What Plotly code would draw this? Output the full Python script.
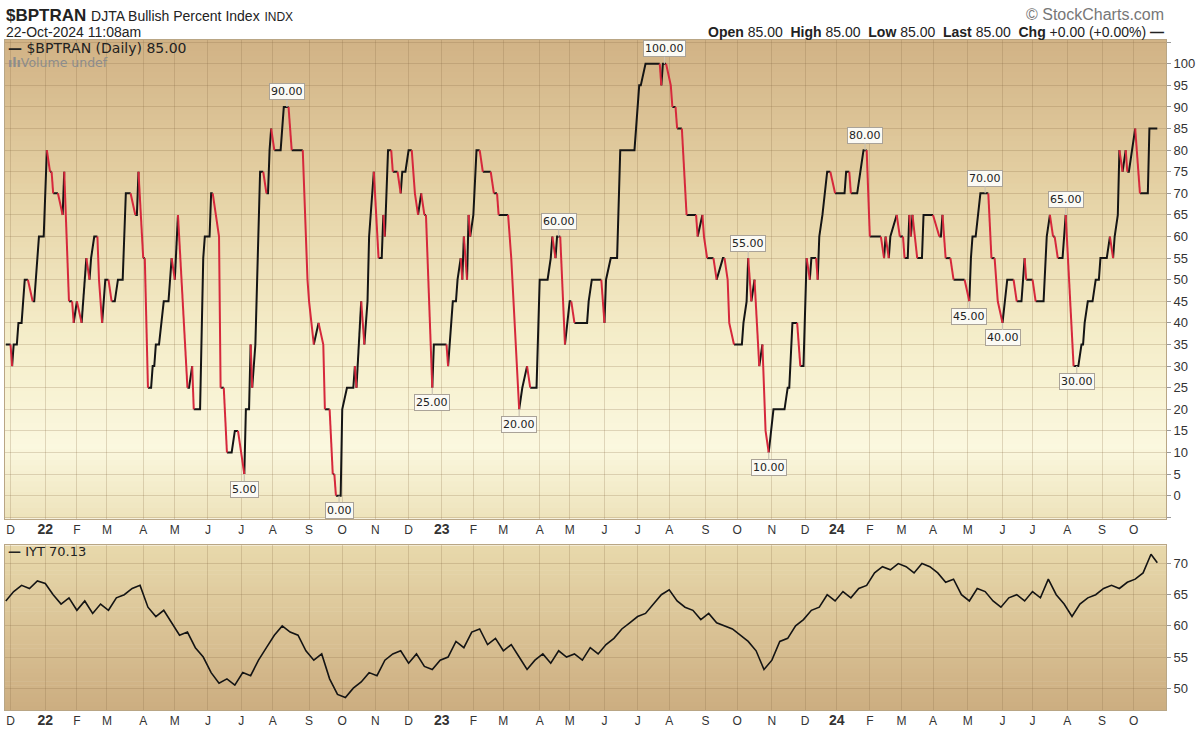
import numpy as np
import pandas as pd
import plotly.graph_objects as go

# ---------------- data ----------------
FIRST_SESSION = "2021-11-26"
LAST_SESSION = "2024-10-22"
market_holidays = [
    "2021-12-24", "2022-01-17", "2022-02-21", "2022-04-15", "2022-05-30", "2022-06-20",
    "2022-07-04", "2022-09-05", "2022-11-24", "2022-12-26", "2023-01-02", "2023-01-16",
    "2023-02-20", "2023-04-07", "2023-05-29", "2023-06-19", "2023-07-04", "2023-09-04",
    "2023-11-23", "2023-12-25", "2024-01-01", "2024-01-15", "2024-02-19", "2024-03-29",
    "2024-05-27", "2024-06-19", "2024-07-04", "2024-09-02",
]

# $BPTRAN vertices: trading-session number (0 = first session) and index value
bp_session = [
    0, 3, 4, 5, 7, 8, 10, 12, 14, 17, 18, 19, 21, 24, 26, 28, 29, 30, 33, 36, 37, 40, 42, 43, 45, 48,
    51, 53, 54, 56, 58, 59, 61, 63, 65, 67, 69, 71, 74, 76, 79, 82, 83, 84, 87, 88, 90, 92, 93, 94,
    95, 97, 100, 103, 105, 107, 109, 115, 116, 118, 119, 123, 125, 126, 129, 130, 131, 135, 136, 138,
    140, 143, 145, 147, 149, 151, 152, 154, 155, 156, 158, 161, 163, 165, 166, 167, 168, 170, 174,
    176, 179, 181, 188, 191, 192, 195, 198, 201, 202, 205, 207, 208, 209, 212, 213, 216, 220, 221,
    222, 225, 227, 229, 230, 231, 233, 236, 238, 239, 240, 242, 244, 245, 248, 250, 251, 253, 255,
    257, 259, 261, 263, 265, 266, 269, 270, 271, 279, 280, 282, 283, 285, 286, 288, 289, 290, 292,
    293, 294, 296, 298, 300, 302, 307, 309, 311, 312, 318, 320, 325, 327, 330, 332, 336, 338, 343,
    345, 346, 348, 349, 351, 354, 357, 358, 360, 368, 369, 371, 377, 379, 380, 383, 387, 389, 398,
    401, 402, 405, 414, 415, 416, 418, 421, 422, 424, 425, 428, 431, 437, 438, 441, 442, 444, 448,
    450, 454, 455, 457, 458, 461, 466, 467, 469, 470, 472, 474, 476, 477, 479, 481, 483, 486, 493,
    495, 496, 498, 501, 503, 505, 507, 509, 510, 513, 514, 515, 517, 520, 522, 525, 531, 532, 534,
    535, 539, 541, 543, 545, 547, 554, 556, 557, 559, 560, 564, 566, 568, 569, 571, 572, 573, 574,
    577, 580, 581, 587, 591, 592, 593, 595, 598, 600, 607, 610, 611, 612, 614, 617, 622, 624, 626,
    628, 631, 634, 638, 640, 643, 645, 646, 650, 652, 657, 659, 661, 663, 664, 666, 669, 670, 671,
    676, 679, 681, 682, 683, 685, 688, 690, 692, 693, 697, 699, 701, 702, 704, 705, 707, 709, 710,
    711, 713, 715, 718, 723, 724, 729,
]
bp_value = [
    35, 35, 30, 35, 35, 40, 40, 50, 50, 45, 45, 50, 60, 60, 80, 75, 75, 70, 70, 65, 75, 45, 45, 40, 45, 40,
    55, 50, 55, 60, 60, 50, 40, 50, 50, 45, 45, 50, 50, 70, 70, 65, 65, 75, 55, 55, 25, 25, 30, 30,
    35, 35, 45, 45, 55, 50, 65, 25, 25, 30, 20, 20, 55, 60, 60, 70, 70, 60, 25, 25,
    10, 10, 15, 15, 10, 5, 20, 20, 35, 25, 35, 75, 75, 70, 70, 80, 85, 80, 80,
    90, 90, 80, 80, 50, 45, 35, 40, 35, 20, 20, 5, 5, 0, 0, 20, 25, 25, 30,
    25, 45, 35, 45, 60, 65, 75, 55, 55, 65, 60, 80, 80, 75, 75, 70, 75, 75, 80,
    80, 70, 65, 70, 65, 65, 35, 25, 35, 35, 30, 40, 45, 45, 50, 55, 50, 60, 50,
    65, 60, 65, 80, 80, 75, 75, 70, 70, 65, 65, 55, 20, 25, 30, 25, 25, 50, 50,
    55, 60, 55, 60, 60, 35, 45, 45, 40, 40, 45, 50, 50, 40, 50, 55, 55, 80, 80,
    95, 95, 100, 100, 95, 100, 100, 95, 90, 90, 85, 85, 65, 65, 60, 65, 60, 55, 55,
    50, 55, 55, 50, 40, 35, 35, 40, 45, 55, 45, 50, 35, 30, 35, 15, 10, 20, 20,
    25, 25, 40, 40, 30, 30, 55, 50, 55, 55, 50, 60, 65, 75, 75, 70, 70, 75, 75,
    70, 70, 75, 80, 80, 60, 60, 55, 60, 55, 60, 65, 60, 60, 55, 55, 65, 60, 65,
    55, 55, 65, 65, 60, 60, 65, 55, 55, 50, 50, 45, 55, 60, 60, 70, 70, 55, 55,
    45, 40, 50, 50, 45, 45, 55, 50, 50, 45, 45, 60, 65, 60, 60, 55, 55, 60, 65,
    30, 30, 35, 35, 40, 45, 45, 50, 50, 55, 55, 60, 55, 60, 65, 80, 75, 80, 75,
    75, 80, 85, 70, 70, 85, 85,
]

# peak / trough call-outs
label_session = [178, 151, 211, 270, 325, 350, 417, 470, 483, 544, 610, 620, 631, 671, 678]
label_value = [90, 5, 0, 25, 20, 60, 100, 55, 10, 80, 45, 70, 40, 65, 30]
label_side = ["top", "bottom", "bottom", "bottom", "bottom", "top", "top", "top", "bottom",
              "top", "bottom", "top", "bottom", "top", "bottom"]

# IYT close, sampled every 5 sessions (last = final session)
iyt_session = [
    0, 5, 10, 15, 20, 25, 30, 35, 40, 45, 50, 55, 60, 65, 70, 75, 80, 85, 90, 95,
    100, 105, 110, 115, 120, 125, 130, 135, 140, 145, 150, 155, 160, 165, 170, 175, 180, 185, 190, 195,
    200, 205, 210, 215, 220, 225, 230, 235, 240, 245, 250, 255, 260, 265, 270, 275, 280, 285, 290, 295,
    300, 305, 310, 315, 320, 325, 330, 335, 340, 345, 350, 355, 360, 365, 370, 375, 380, 385, 390, 395,
    400, 405, 410, 415, 420, 425, 430, 435, 440, 445, 450, 455, 460, 465, 470, 475, 480, 485, 490, 495,
    500, 505, 510, 515, 520, 525, 530, 535, 540, 545, 550, 555, 560, 565, 570, 575, 580, 585, 590, 595,
    600, 605, 610, 615, 620, 625, 630, 635, 640, 645, 650, 655, 660, 665, 670, 675, 680, 685, 690, 695,
    700, 705, 710, 715, 720, 725, 729,
]
iyt_close = [
    64.0, 65.5, 66.5, 66.0, 67.2, 66.8, 65.0, 63.5, 64.5, 62.5, 64.0, 62.0, 63.5, 62.5, 64.5, 65.0, 66.0, 66.5, 63.0, 61.5,
    62.5, 60.5, 58.5, 59.0, 56.5, 55.0, 52.5, 50.8, 51.5, 50.5, 52.5, 52.0, 54.5, 56.5, 58.5, 60.0, 59.0, 58.5, 56.0, 54.5,
    55.5, 51.5, 49.0, 48.5, 50.0, 51.0, 52.5, 52.0, 54.5, 55.5, 56.0, 54.0, 55.5, 53.5, 53.0, 54.5, 55.0, 57.5, 56.5, 59.0,
    59.5, 57.0, 58.0, 56.0, 57.0, 55.0, 53.0, 54.5, 55.5, 54.0, 56.0, 55.0, 55.5, 54.5, 56.5, 55.5, 57.0, 58.0, 59.5, 60.5,
    61.5, 62.0, 63.5, 65.0, 65.8, 64.0, 63.0, 62.5, 61.0, 62.0, 60.5, 60.0, 59.5, 58.5, 57.5, 56.0, 53.0, 54.5, 57.5, 58.0,
    60.0, 61.0, 62.5, 63.0, 65.0, 64.0, 65.5, 64.5, 66.0, 66.5, 68.5, 69.5, 69.0, 70.0, 69.5, 68.5, 70.0, 69.5, 68.5, 67.0,
    67.5, 65.0, 64.0, 66.0, 65.5, 64.0, 63.0, 64.5, 65.0, 64.0, 65.5, 64.5, 67.5, 65.0, 63.5, 61.5, 63.5, 64.5, 65.0, 66.0,
    66.5, 66.0, 67.0, 67.5, 68.5, 71.5, 70.13,
]

# ---------------- styling ----------------
RED = "#d6283c"
BLACK = "#141414"
GRID = "rgba(135,105,65,0.24)"
BORDER = "#b9a685"
TXT = "#222222"
SANS = "Liberation Sans, Arial, sans-serif"
VERD = "DejaVu Sans, Verdana, sans-serif"

W, H = 1200, 732
ML, MR, MT, MB = 4, 34, 40, 20
PW, PH = W - ML - MR, H - MT - MB


def px_x(px):
    return (px - ML) / PW


def px_y(py):
    return (H - MB - py) / PH


main_dom = [px_y(520), 1.0]
low_dom = [0.0, px_y(547)]

# trading calendar -> month ticks
cal = pd.bdate_range(FIRST_SESSION, LAST_SESSION)
cal = cal[~cal.isin(pd.to_datetime(market_holidays))]
tick_s, tick_t = [], []
for i in range(1, len(cal)):
    if cal[i].month != cal[i - 1].month:
        tick_s.append(i)
        d = cal[i]
        if d.month == 1:
            tick_t.append(f"<b><span style='font-size:14px'>{d:%y}</span></b>")
        else:
            tick_t.append(d.strftime("%b")[0])

fig = go.Figure()

# ---- BPI line, coloured by direction (runs of equal colour) ----
s = np.array(bp_session)
v = np.array(bp_value, dtype=float)
seg_col = [RED if v[i] < v[i - 1] else BLACK for i in range(1, len(v))]
runs = []
start = 0
for i in range(1, len(seg_col) + 1):
    if i == len(seg_col) or seg_col[i] != seg_col[start]:
        runs.append((seg_col[start], start, i))
        start = i
for col in (BLACK, RED):
    xs, ys = [], []
    for c, a, b in runs:
        if c != col:
            continue
        xs += list(s[a:b + 1]) + [None]
        ys += list(v[a:b + 1]) + [None]
    fig.add_trace(go.Scatter(x=xs, y=ys, mode="lines", xaxis="x", yaxis="y",
                             line=dict(color=col, width=2), hoverinfo="skip",
                             connectgaps=False))

# ---- IYT line ----
fig.add_trace(go.Scatter(x=iyt_session, y=iyt_close, mode="lines", xaxis="x2", yaxis="y2",
                         line=dict(color=BLACK, width=1.6), hoverinfo="skip"))

# ---- gradient backgrounds ----
main_stops = [(0.0, (209, 178, 133)), (0.3, (228, 208, 163)), (0.6, (244, 236, 199)),
              (0.85, (251, 248, 223)), (1.0, (238, 227, 187))]
low_stops = [(0.0, (232, 217, 172)), (1.0, (204, 173, 128))]


def grad_color(stops, t):
    for (t0, c0), (t1, c1) in zip(stops[:-1], stops[1:]):
        if t0 <= t <= t1:
            f = (t - t0) / (t1 - t0)
            c = [round(c0[k] + (c1[k] - c0[k]) * f) for k in range(3)]
            return f"rgb({c[0]},{c[1]},{c[2]})"
    c = stops[-1][1]
    return f"rgb({c[0]},{c[1]},{c[2]})"


shapes = []
for yref, xref, stops, n in (("y domain", "x domain", main_stops, 90), ("y2 domain", "x2 domain", low_stops, 40)):
    for k in range(n):
        t0, t1 = k / n, (k + 1) / n
        shapes.append(dict(type="rect", xref=xref, yref=yref, x0=0, x1=1,
                           y0=max(0, 1 - t1 - 0.003), y1=1 - t0,
                           fillcolor=grad_color(stops, (t0 + t1) / 2),
                           line=dict(width=0), layer="below"))

# ---- axes ----
main_ticks = list(range(-5, 110, 5))
main_text = [str(t) if 0 <= t <= 100 else "" for t in main_ticks]
low_ticks = list(range(45, 80, 5))
low_text = [str(t) if 50 <= t <= 70 else "" for t in low_ticks]

xcommon = dict(range=[-0.5, 734.5], tickmode="array", tickvals=tick_s, ticktext=tick_t,
               showgrid=True, gridcolor=GRID, gridwidth=1, zeroline=False,
               showline=True, linecolor=BORDER, mirror=True, ticks="",
               tickfont=dict(family=SANS, size=12, color="#333"))

fig.update_layout(
    width=W, height=H,
    margin=dict(l=ML, r=MR, t=MT, b=MB),
    paper_bgcolor="white", plot_bgcolor="rgba(0,0,0,0)",
    showlegend=False,
    font=dict(family=SANS, color=TXT),
    xaxis=dict(domain=[0, 1], anchor="y", **xcommon),
    xaxis2=dict(domain=[0, 1], anchor="y2", **xcommon),
    yaxis=dict(domain=main_dom, anchor="x", side="right", range=[-5.3, 105.5],
               tickmode="array", tickvals=main_ticks, ticktext=main_text,
               showgrid=True, gridcolor=GRID, zeroline=False,
               showline=True, linecolor=BORDER, mirror=True,
               ticks="outside", ticklen=4, tickcolor="#999",
               tickfont=dict(family=SANS, size=13, color="#333")),
    yaxis2=dict(domain=low_dom, anchor="x2", side="right", range=[46.5, 72.9],
                tickmode="array", tickvals=low_ticks, ticktext=low_text,
                showgrid=True, gridcolor=GRID, zeroline=False,
                showline=True, linecolor=BORDER, mirror=True,
                ticks="outside", ticklen=4, tickcolor="#999",
                tickfont=dict(family=SANS, size=13, color="#333")),
    shapes=shapes,
)

# ---- peak / trough labels ----
for ss, vv, side in zip(label_session, label_value, label_side):
    fig.add_annotation(x=ss, y=vv, xref="x", yref="y", text=f"{vv:.2f}",
                       showarrow=True, arrowhead=0, arrowwidth=1.2, arrowcolor="#c9c2b2",
                       ax=0, ay=(-15 if side == "top" else 15),
                       bgcolor="#fbfaf4", bordercolor="#aaa398", borderwidth=1, borderpad=1,
                       font=dict(family=VERD, size=11, color="#222"))

# ---- header texts ----
def note(px, py, text, size, xanchor="left", color=TXT, family=SANS):
    fig.add_annotation(x=px_x(px), y=px_y(py), xref="paper", yref="paper", text=text,
                       showarrow=False, xanchor=xanchor, yanchor="middle",
                       font=dict(family=family, size=size, color=color))


SP = "&nbsp;&nbsp;"
note(3, 15, "<b>$BPTRAN</b> <span style='font-size:14px'>DJTA Bullish Percent Index</span>"
            " <span style='font-size:12px'>INDX</span>", 17)
note(3, 32, "22-Oct-2024 11:08am", 14)
note(1166, 14, "© StockCharts.com", 16, xanchor="right", color="#777")
note(1166, 32, f"<b>Open</b> 85.00{SP}<b>High</b> 85.00{SP}<b>Low</b> 85.00{SP}<b>Last</b> 85.00{SP}"
               "<b>Chg</b> +0.00 (+0.00%) <b>—</b>", 14, xanchor="right")
note(5, 48, "<b>—</b> $BPTRAN (Daily) 85.00", 14, family=VERD)
note(5, 63, "<b>ılı</b>Volume undef", 12.5, color="#8c8c8c", family=VERD)
note(5, 553, "<b>—</b> IYT 70.13", 13, family=VERD)

fig.write_html("out.html")
